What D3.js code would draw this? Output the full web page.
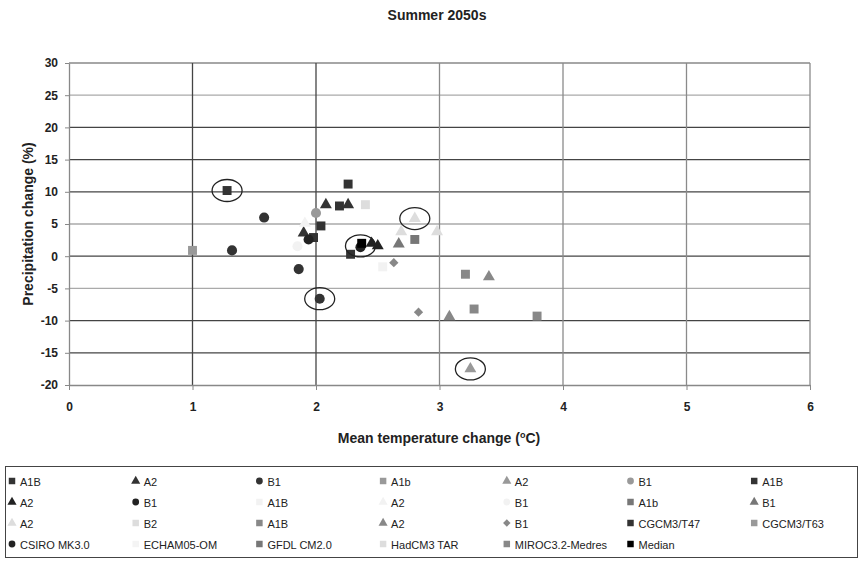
<!DOCTYPE html>
<html lang="en">
<head>
    <meta charset="UTF-8">
    <title>Summer 2050s</title>
    <script src="https://d3js.org/d3.v7.min.js"></script>
    <style>
        body {
            margin: 0;
            background: #fff;
            font-family: "Liberation Sans", Arial, sans-serif;
        }
        .title, .axis-title, .tick-label {
            font-weight: bold;
            fill: #222;
        }
        .legend-label {
            font-size: 11px;
            fill: #222;
        }
    </style>
</head>
<body>
    <svg id="chart" width="865" height="562"></svg>

    <script>
        // x ticks (deg C) and y ticks (%)
        const xTicks = [0, 1, 2, 3, 4, 5, 6];
        const yTicks = [30, 25, 20, 15, 10, 5, 0, -5, -10, -15, -20];

        // legend entries, row by row
        const seriesLabels = [
            "A1B", "A2", "B1", "A1b", "A2", "B1", "A1B",
            "A2", "B1", "A1B", "A2", "B1", "A1b", "B1",
            "A2", "B2", "A1B", "A2", "B1", "CGCM3/T47", "CGCM3/T63",
            "CSIRO  MK3.0", "ECHAM05-OM", "GFDL CM2.0", "HadCM3 TAR", "MIROC3.2-Medres", "Median"
        ];
        const seriesShapes = [
            "square", "triangle", "circle", "square", "triangle", "circle", "square",
            "triangle", "circle", "square", "triangle", "circle", "square", "triangle",
            "triangle", "square", "square", "triangle", "diamond", "square", "square",
            "circle", "square", "square", "square", "square", "square"
        ];
        const seriesColors = [
            "#333", "#333", "#333", "#999", "#999", "#999", "#333",
            "#222", "#222", "#f2f2f2", "#f2f2f2", "#f2f2f2", "#777", "#777",
            "#ddd", "#ddd", "#888", "#888", "#888", "#333", "#999",
            "#222", "#f4f4f4", "#777", "#ddd", "#888", "#000"
        ];

        // [temperature change, precipitation change] per series
        const seriesPoints = [
            [[1.28, 10.2], [2.26, 11.2], [2.04, 4.7], [2.19, 7.8]],
            [[2.08, 8.0], [2.26, 8.0], [1.90, 3.6]],
            [[1.58, 6.0], [1.32, 0.9], [1.86, -2.0], [2.03, -6.6]],
            [[1.00, 0.9]],
            [[3.25, -17.5]],
            [[2.00, 6.7]],
            [[1.98, 2.9], [2.28, 0.3]],
            [[2.45, 2.0], [2.50, 1.6]],
            [[1.94, 2.6], [2.36, 1.4]],
            [[2.54, -1.65]],
            [[1.91, 5.1]],
            [[1.85, 1.55]],
            [[2.80, 2.6]],
            [[2.67, 1.9]],
            [[2.80, 5.85], [2.69, 3.8], [2.98, 3.8]],
            [[2.40, 8.0]],
            [[3.21, -2.8], [3.28, -8.2], [3.79, -9.3]],
            [[3.40, -3.2], [3.08, -9.4]],
            [[2.63, -1.0], [2.83, -8.7]],
            [], [], [], [], [], [], [],
            [[2.37, 2.0]]
        ];

        // points ringed by hand in the original
        const circled = [[1.28, 10.2], [2.36, 1.6], [2.03, -6.6], [2.80, 5.85], [3.25, -17.5]];

        const svg = d3.select("#chart");

        const x = d3.scaleLinear().domain([0, 6]).range([69, 810]);
        const y = d3.scaleLinear().domain([-20, 30]).range([385, 63]);

        const symbolTypes = {
            square: d3.symbolSquare,
            triangle: d3.symbolTriangle,
            circle: d3.symbolCircle,
            diamond: d3.symbolDiamond2 || d3.symbolDiamond
        };
        const symbolSizes = { square: 80, triangle: 62, circle: 80, diamond: 55 };

        // title
        svg.append("text")
            .attr("class", "title")
            .attr("x", 437)
            .attr("y", 20)
            .attr("text-anchor", "middle")
            .style("font-size", "14px")
            .text("Summer 2050s");

        // gridlines
        const lightRows = [25, 5, -5];
        svg.append("g")
            .selectAll("line")
            .data(yTicks.filter(d => d !== -20))
            .join("line")
            .attr("x1", x(0)).attr("x2", x(6))
            .attr("y1", d => y(d)).attr("y2", d => y(d))
            .attr("stroke", d => d === 30 ? "#888" : lightRows.includes(d) ? "#aaa" : "#444")
            .attr("stroke-width", 1.3);

        const darkCols = [1, 2];
        svg.append("g")
            .selectAll("line")
            .data(xTicks.filter(d => d !== 0))
            .join("line")
            .attr("x1", d => x(d)).attr("x2", d => x(d))
            .attr("y1", y(30)).attr("y2", y(-20))
            .attr("stroke", d => darkCols.includes(d) ? "#444" : "#8a8a8a")
            .attr("stroke-width", 1.3);

        // axes
        const fmt = d => String(d);
        const xAxis = svg.append("g")
            .attr("transform", `translate(0,${y(-20)})`)
            .call(d3.axisBottom(x).tickValues(xTicks).tickFormat(fmt)
                .tickSize(5).tickPadding(12).tickSizeOuter(0));
        const yAxis = svg.append("g")
            .attr("transform", `translate(${x(0)},0)`)
            .call(d3.axisLeft(y).tickValues(yTicks).tickFormat(fmt)
                .tickSize(4).tickPadding(7).tickSizeOuter(0));

        [xAxis, yAxis].forEach(ax => {
            ax.select(".domain").attr("stroke", "#888").attr("stroke-width", 1.3);
            ax.selectAll(".tick line").attr("stroke", "#888");
            ax.selectAll(".tick text")
                .attr("class", "tick-label")
                .style("font-size", "12px")
                .style("font-family", "'Liberation Sans', Arial, sans-serif");
        });

        // axis titles
        const xTitle = svg.append("text")
            .attr("class", "axis-title")
            .attr("x", 439)
            .attr("y", 443)
            .attr("text-anchor", "middle")
            .style("font-size", "14px")
            .text("Mean temperature change (");
        xTitle.append("tspan").attr("dy", -5).style("font-size", "9px").text("o");
        xTitle.append("tspan").attr("dy", 5).text("C)");

        svg.append("text")
            .attr("class", "axis-title")
            .attr("transform", "translate(33,224) rotate(-90)")
            .attr("text-anchor", "middle")
            .style("font-size", "14px")
            .text("Precipitation change (%)");

        // data points
        const pointData = [];
        seriesPoints.forEach((pts, i) => {
            pts.forEach(p => pointData.push({ t: p[0], p: p[1], s: i }));
        });

        svg.append("g")
            .selectAll("path")
            .data(pointData)
            .join("path")
            .attr("transform", d => `translate(${x(d.t)},${y(d.p)})`)
            .attr("d", d => d3.symbol()
                .type(symbolTypes[seriesShapes[d.s]])
                .size(symbolSizes[seriesShapes[d.s]])())
            .attr("fill", d => seriesColors[d.s]);

        // ellipses around highlighted points
        svg.append("g")
            .selectAll("ellipse")
            .data(circled)
            .join("ellipse")
            .attr("cx", d => x(d[0]))
            .attr("cy", d => y(d[1]))
            .attr("rx", 15)
            .attr("ry", 11)
            .attr("fill", "none")
            .attr("stroke", "#222")
            .attr("stroke-width", 1.3);

        // legend
        svg.append("rect")
            .attr("x", 5.5).attr("y", 466.5)
            .attr("width", 852).attr("height", 91)
            .attr("fill", "none")
            .attr("stroke", "#444")
            .attr("stroke-width", 1);

        const legendItem = svg.append("g")
            .selectAll("g")
            .data(seriesLabels)
            .join("g")
            .attr("transform", (d, i) => `translate(${12 + (i % 7) * 123.7},${481 + Math.floor(i / 7) * 21})`);

        legendItem.append("path")
            .attr("d", (d, i) => d3.symbol()
                .type(symbolTypes[seriesShapes[i]])
                .size(seriesShapes[i] === "square" ? 42 : 36)())
            .attr("fill", (d, i) => seriesColors[i]);

        legendItem.append("text")
            .attr("class", "legend-label")
            .attr("x", 8)
            .attr("y", 5)
            .text(d => d);
    </script>
</body>
</html>
